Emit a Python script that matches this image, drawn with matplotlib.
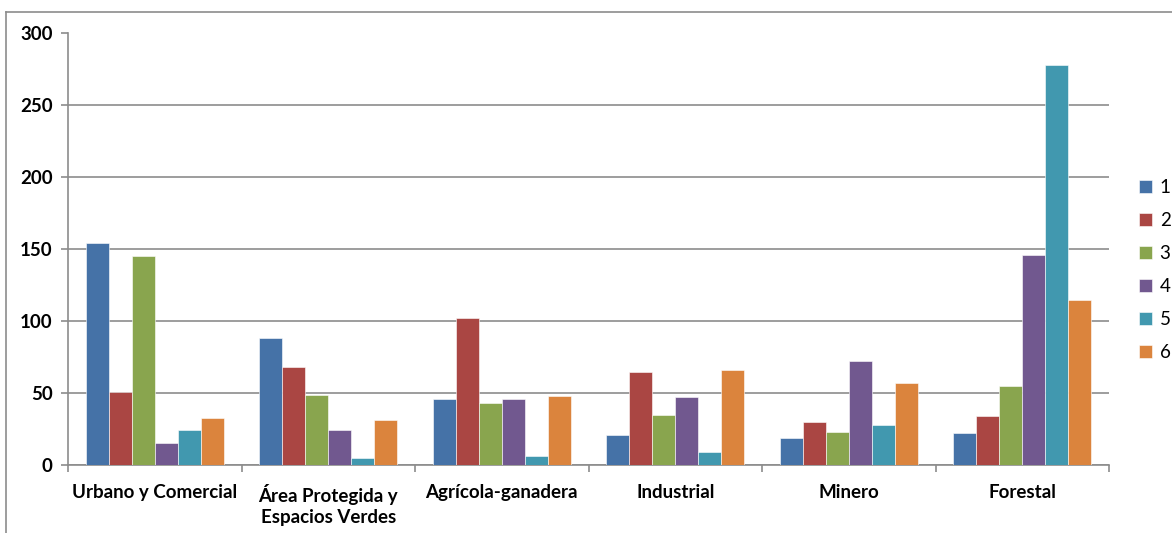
import numpy as np
import matplotlib.pyplot as plt
from matplotlib.lines import Line2D

categories = ['Urbano y Comercial', 'Área Protegida y\nEspacios Verdes',
              'Agrícola-ganadera', 'Industrial', 'Minero', 'Forestal']
series_names = ['1', '2', '3', '4', '5', '6']
s1 = [154, 88, 46, 21, 19, 22]
s2 = [51, 68, 102, 65, 30, 34]
s3 = [145, 49, 43, 35, 23, 55]
s4 = [15, 24, 46, 47, 72, 146]
s5 = [24, 5, 6, 9, 28, 278]
s6 = [33, 31, 48, 66, 57, 115]
series = [s1, s2, s3, s4, s5, s6]
colors = ['#4572A7', '#AA4643', '#89A54E', '#71588F', '#4198AF', '#DB843D']

plt.rcParams['font.family'] = ['Lato', 'DejaVu Sans']

fig = plt.figure(figsize=(11.72, 5.33), dpi=100)
ax = fig.add_axes([68 / 1172, 1 - 465 / 533, (1109 - 68) / 1172, (465 - 33.5) / 533])

x = np.arange(len(categories))
bw = 0.133
for i, (vals, name, c) in enumerate(zip(series, series_names, colors)):
    ax.bar(x + (i - 2.5) * bw, vals, bw, color=c, label=name,
           edgecolor='white', linewidth=0.4, zorder=3)

ax.set_xlim(-0.5, len(categories) - 0.5)
ax.set_ylim(0, 300)
ax.set_yticks(np.arange(0, 301, 50))
ax.yaxis.grid(True, color='#8c8c8c', linewidth=1.2, zorder=0)

ax.set_xticks(np.arange(-0.5, len(categories)), minor=False)
ax.set_xticklabels([])
ax.set_xticks(x, minor=True)
ax.set_xticklabels(categories, minor=True, fontsize=13.5, fontweight='bold',
                   linespacing=1.25)
ax.tick_params(axis='x', which='major', length=5, color='#8c8c8c', width=1.2)
ax.tick_params(axis='x', which='minor', length=0, pad=14)
ax.tick_params(axis='y', length=5, color='#8c8c8c', width=1.2, labelsize=13.5, pad=6)
for lab in ax.get_yticklabels():
    lab.set_fontweight('bold')

for side in ['top', 'right']:
    ax.spines[side].set_visible(False)
for side in ['left', 'bottom']:
    ax.spines[side].set_color('#8c8c8c')
    ax.spines[side].set_linewidth(1.2)

fig.legend(loc='upper left', bbox_to_anchor=(1139 / 1172, 1 - 179 / 533),
           frameon=False, fontsize=13.5, handlelength=0.7, handleheight=0.7,
           handletextpad=0.4, labelspacing=0.85, borderaxespad=0, borderpad=0)

# outer chart border (only left and top visible)
fig.add_artist(Line2D([6 / 1172, 6 / 1172], [0, 1 - 12 / 533], color='#8c8c8c', linewidth=1.2))
fig.add_artist(Line2D([6 / 1172, 1], [1 - 12 / 533, 1 - 12 / 533], color='#8c8c8c', linewidth=1.2))

fig.savefig('out.png', dpi=100)
